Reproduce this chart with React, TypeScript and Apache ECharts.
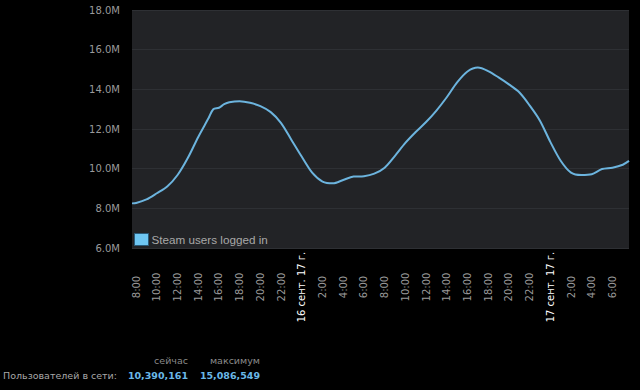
import React, { useEffect, useRef } from "react";
import * as echarts from "echarts";

// hours since 15 Sep 2017 00:00
const hours = [
  7.6, 8, 9, 10, 11, 12, 13, 14, 15, 15.45, 16, 16.5, 17, 18, 19, 20, 21, 22,
  23, 24, 25, 26, 27, 28, 29, 30, 31, 32, 33, 34, 35, 36, 37, 38, 39, 40, 41,
  42, 43, 44, 45, 46, 47, 48, 49, 50, 51, 52, 53, 54, 55, 55.6,
];
// Steam users logged in, millions
const users = [
  8.25, 8.27, 8.45, 8.76, 9.1, 9.68, 10.55, 11.6, 12.55, 13.0, 13.07, 13.25,
  13.35, 13.4, 13.32, 13.15, 12.85, 12.3, 11.45, 10.6, 9.8, 9.35, 9.26, 9.43,
  9.6, 9.62, 9.75, 10.05, 10.65, 11.3, 11.85, 12.35, 12.93, 13.6, 14.35, 14.9,
  15.1, 14.92, 14.6, 14.25, 13.85, 13.19, 12.42, 11.35, 10.4, 9.8, 9.68, 9.72,
  9.98, 10.05, 10.2, 10.39,
];
const dateLabels: Record<number, string> = {
  24: "16 сент. 17 г.",
  48: "17 сент. 17 г.",
};
const seriesName = "Steam users logged in";
const statHeaders = ["сейчас", "максимум"];
const statLabel = "Пользователей в сети:";
const statValues = ["10,390,161", "15,086,549"];

export default function App() {
  const ref = useRef<HTMLDivElement>(null);
  useEffect(() => {
    if (!ref.current) return;
    const chart = echarts.init(ref.current, null, { renderer: "svg" });
    const data = hours.map((h, i) => [h, users[i]]);
    const font = "DejaVu Sans";
    chart.setOption({
      animation: false,
      backgroundColor: "#000000",
      grid: {
        left: 132,
        top: 10,
        width: 497,
        height: 238,
        show: true,
        backgroundColor: "#222326",
        borderWidth: 0,
      },
      legend: {
        left: 134,
        top: 233,
        padding: 0,
        itemWidth: 14,
        itemHeight: 12,
        itemGap: 4,
        icon: "rect",
        data: [
          {
            name: seriesName,
            itemStyle: { color: "#6ec6f2", borderColor: "#2a5a78", borderWidth: 1 },
          },
        ],
        textStyle: {
          color: "#a8a8a8",
          fontSize: 11.7,
          fontFamily: "Liberation Sans",
          padding: [0, 0, 0, -2],
        },
      },
      xAxis: {
        type: "value",
        min: 7.6,
        max: 55.6,
        splitNumber: 24,
        splitLine: { show: false },
        axisLine: { show: false },
        axisTick: { show: false },
        axisLabel: {
          rotate: 90,
          align: "center",
          verticalAlign: "middle",
          margin: 39,
          color: "#9a9a9a",
          fontSize: 10,
          fontFamily: font,
          showMinLabel: false,
          showMaxLabel: false,
          formatter: (v: number) => {
            const r = Math.round(v * 1000) / 1000;
            if (Math.abs(r - Math.round(r)) > 1e-6) return "";
            const h = Math.round(r);
            if (h % 24 === 0) return "{d|" + (dateLabels[h] || "") + "}";
            return (h % 24) + ":00";
          },
          rich: {
            d: { color: "#ffffff", fontSize: 10, fontFamily: font },
          },
        },
      },
      yAxis: {
        type: "value",
        min: 6,
        max: 18,
        interval: 2,
        axisLine: { show: false },
        axisTick: { show: false },
        splitLine: { lineStyle: { color: "#2e3034", width: 1 } },
        axisLabel: {
          color: "#9a9a9a",
          fontSize: 10,
          fontFamily: font,
          margin: 12,
          formatter: (v: number) => v.toFixed(1) + "M",
        },
      },
      series: [
        {
          name: seriesName,
          type: "line",
          data,
          smooth: 0.3,
          showSymbol: false,
          lineStyle: { color: "#6cb4de", width: 2 },
          itemStyle: { color: "#6ec6f2" },
        },
      ],
      graphic: [
        {
          type: "text",
          right: 640 - 188,
          top: 355,
          style: { text: statHeaders[0], fill: "#8a8a8a", font: `9.5px "${font}"` },
        },
        {
          type: "text",
          right: 640 - 260,
          top: 355,
          style: { text: statHeaders[1], fill: "#8a8a8a", font: `9.5px "${font}"` },
        },
        {
          type: "text",
          left: 3,
          top: 370,
          style: { text: statLabel, fill: "#a8a8a8", font: `9.5px "${font}"` },
        },
        {
          type: "text",
          right: 640 - 188,
          top: 370,
          style: { text: statValues[0], fill: "#6ab8e8", font: `bold 9.5px "${font}"` },
        },
        {
          type: "text",
          right: 640 - 260,
          top: 370,
          style: { text: statValues[1], fill: "#6ab8e8", font: `bold 9.5px "${font}"` },
        },
      ],
    });
    return () => chart.dispose();
  }, []);
  return (
    <div
      ref={ref}
      style={{ position: "absolute", left: 0, top: 0, width: 640, height: 390, background: "#000" }}
    />
  );
}
